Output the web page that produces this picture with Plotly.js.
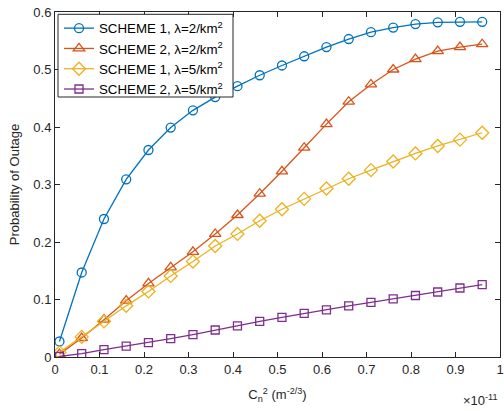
<!DOCTYPE html>
<html><head><meta charset="utf-8">
<script src="https://cdn.plot.ly/plotly-3.0.1.min.js"></script>
<style>html,body{margin:0;padding:0;background:#fff}#chart{width:504px;height:411px}</style>
</head><body><div id="chart"></div>
<script>
const xValues = [0.01,0.06,0.11,0.16,0.21,0.26,0.31,0.36,0.41,0.46,0.51,0.56,0.61,0.66,0.71,0.76,0.81,0.86,0.91,0.96];
const scheme1Lam2 = [0.027,0.147,0.240,0.309,0.360,0.399,0.429,0.452,0.471,0.490,0.507,0.523,0.539,0.553,0.565,0.573,0.579,0.582,0.583,0.583];
const scheme2Lam2 = [0.005,0.033,0.065,0.098,0.128,0.156,0.183,0.214,0.247,0.284,0.323,0.364,0.405,0.444,0.474,0.500,0.518,0.532,0.539,0.544];
const scheme1Lam5 = [0.008,0.035,0.062,0.089,0.114,0.141,0.166,0.193,0.214,0.237,0.257,0.275,0.293,0.310,0.325,0.340,0.354,0.367,0.378,0.390];
const scheme2Lam5 = [0.001,0.006,0.013,0.019,0.025,0.032,0.039,0.047,0.054,0.062,0.069,0.076,0.082,0.089,0.095,0.101,0.107,0.113,0.120,0.126];
const seriesNames = ['SCHEME 1, λ=2/km<sup>2</sup>','SCHEME 2, λ=2/km<sup>2</sup>','SCHEME 1, λ=5/km<sup>2</sup>','SCHEME 2, λ=5/km<sup>2</sup>'];
const xTickVals = [0,0.1,0.2,0.3,0.4,0.5,0.6,0.7,0.8,0.9,1];
const xTickText = ['0','0.1','0.2','0.3','0.4','0.5','0.6','0.7','0.8','0.9','1'];
const yTickVals = [0,0.1,0.2,0.3,0.4,0.5,0.6];
const yTickText = ['0','0.1','0.2','0.3','0.4','0.5','0.6'];

const colors = ['#0072BD','#D95319','#EDB120','#7E2F8E'];
const symbols = ['circle-open','triangle-up-open','diamond-open','square-open'];
const sizes = [9,10,10,8];
const ys = [scheme1Lam2, scheme2Lam2, scheme1Lam5, scheme2Lam5];
const traces = ys.map((y,i)=>({
  x: xValues, y: y, name: seriesNames[i], type:'scatter', mode:'lines+markers',
  line:{color:colors[i], width:1.3},
  marker:{symbol:symbols[i], size:sizes[i], color:colors[i], line:{color:colors[i], width:1.3}}
}));
const fam = 'Liberation Sans, Arial, sans-serif';
const font = {family:fam, size:13, color:'#262626'};
const W=504, H=411, L=55, R=4, T=12, B=54;
const pw = W-L-R, ph = H-T-B;
const px = v => (v-L)/pw;
const py = v => 1-(v-T)/ph;
const layout = {
  width:W, height:H,
  margin:{l:L, r:R, t:T, b:B},
  paper_bgcolor:'#fff', plot_bgcolor:'#fff',
  font: font,
  showlegend:true,
  legend:{x:px(59), y:py(13), xanchor:'left', yanchor:'top', bgcolor:'rgba(0,0,0,0)', borderwidth:0,
    font:{family:fam, size:13.3, color:'#000'}, tracegroupgap:0},
  shapes:[{type:'rect', xref:'paper', yref:'paper', x0:px(58), x1:px(233), y0:py(97), y1:py(14.3),
    line:{color:'#262626', width:1}, fillcolor:'#fff', layer:'above'}],
  xaxis:{range:[0,1], tickvals:xTickVals, ticktext:xTickText, ticks:'inside', ticklen:5, tickcolor:'#262626',
    ticklabeloverflow:'allow',
    showline:true, linecolor:'#262626', linewidth:1, mirror:'allticks', showgrid:false, zeroline:false,
    title:{text:'C<sub>n</sub><sup>2</sup> (m<sup>-2/3</sup>)', font:font, standoff:14}},
  yaxis:{range:[0,0.6], tickvals:yTickVals, ticktext:yTickText, ticks:'inside', ticklen:5, tickcolor:'#262626',
    ticklabeloverflow:'allow',
    showline:true, linecolor:'#262626', linewidth:1, mirror:'allticks', showgrid:false, zeroline:false,
    title:{text:'Probability of Outage', font:font, standoff:10}},
  annotations:[{xref:'paper', yref:'paper', x:1.0, y:py(390), xanchor:'right', yanchor:'top', showarrow:false,
    text:'×10<sup>-11</sup>', font:{family:fam, size:13, color:'#262626'}}]
};
Plotly.newPlot('chart', traces, layout, {displayModeBar:false, staticPlot:true});
</script></body></html>
